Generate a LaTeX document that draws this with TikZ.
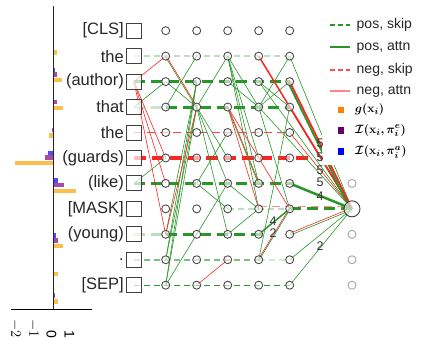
\documentclass[tikz,border=0pt]{standalone}
\usepackage{fontspec}
\setmainfont{Liberation Sans}
\usepackage{amsmath}
\usepackage{bm}
\definecolor{G}{RGB}{40,150,40}
\definecolor{R}{RGB}{255,35,35}
\definecolor{barO}{RGB}{253,190,80}
\definecolor{barP}{RGB}{166,76,166}
\definecolor{barB}{RGB}{76,76,255}
\tikzset{
  tok/.style={anchor=east, font=\fontsize{16.5}{18}\selectfont, text=black!85, inner sep=0pt},
  sq/.style={draw=black!75, line width=0.9pt, minimum size=15pt, inner sep=0pt, fill=white, fill opacity=0.7},
  nd/.style={circle, draw=black!70, line width=0.9pt, minimum size=8pt, inner sep=0pt, fill=white, fill opacity=0.6},
  gnd/.style={circle, draw=black!35, line width=0.9pt, minimum size=8pt, inner sep=0pt},
  bignd/.style={circle, draw=black!75, line width=0.9pt, minimum size=16pt, inner sep=0pt, fill=white, fill opacity=0.6},
  ga/.style={draw=G, line width=0.6pt},
  ra/.style={draw=R, line width=0.6pt},
  gthin/.style={draw=G, line width=1.3pt, dash pattern=on 6pt off 4pt},
  gthick/.style={draw=G, line width=3pt, dash pattern=on 11pt off 6pt},
  rthin/.style={draw=R, line width=1pt, dash pattern=on 8pt off 5pt},
  rthick/.style={draw=R, line width=4pt, dash pattern=on 12pt off 6pt},
  num/.style={font=\fontsize{12.5}{13}\selectfont, text=black!80, inner sep=0pt},
  legtxt/.style={anchor=west, font=\fontsize{14}{15}\selectfont, text=black!85, inner sep=0pt},
  legmath/.style={anchor=west, font=\fontsize{12.5}{13}\selectfont, text=black, inner sep=0pt},
  tick/.style={anchor=east, rotate=-90, font=\fontsize{14}{15}\selectfont, inner sep=0pt},
}
\begin{document}
\begin{tikzpicture}[x=1pt, y=-1pt]
\useasboundingbox (0,0) rectangle (424,339);
% ---------- bar chart ----------
\foreach \i/\vb/\vp/\vo in {1/0/0.05/0.19, 2/0.1/0.19/0.48, 3/0.06/0.19/0.55, 4/0.01/-0.09/-0.22,
  5/-0.28/-0.46/-2.13, 6/0.28/0.6/1.26, 8/0.15/0.28/0.52, 9/0.01/0.03/0.24, 10/0.02/0.1/0.28}{
  \pgfmathsetmacro{\yo}{25+27.65*\i}
  \fill[barB] (53.3,\yo-12.7) rectangle ({53.3+18*\vb},\yo-8.3);
  \fill[barP] (53.3,\yo-8) rectangle ({53.3+18*\vp},\yo-3.6);
  \fill[barO] (53.3,\yo-2.2) rectangle ({53.3+18*\vo},\yo+2.2);
}
\draw[black!85, line width=1pt] (53.3,6) -- (53.3,310);
\draw[black, line width=1pt] (11,310) -- (92,310);
\node[tick] (t1) at (15.5,338) {$-2$};
\node[tick] (t2) at (33.5,338) {$-1$};
\node[tick] (t3) at (51.5,338) {0};
\node[tick] (t4) at (69.5,338) {1};
% ---------- node positions ----------
\foreach \i in {0,...,10}{
  \pgfmathsetmacro{\yy}{30.7+25.45*\i}
  \coordinate (p\i) at (134,\yy);
  \foreach \j in {1,...,5}{
    \coordinate (q\j-\i) at ({165.7+31*(\j-1)},\yy);
  }
}
\foreach \i in {6,...,10}{
  \pgfmathsetmacro{\yy}{30.7+25.45*\i}
  \coordinate (qf-\i) at (352,\yy);
}
% ---------- skip lines ----------
\draw[gthin, draw opacity=0.3] (p1) -- (q5-1);
\draw[gthick] (p2) -- (q5-2);
\draw[gthick, draw opacity=0.25] (p3) -- (q1-3);
\draw[gthick] (q1-3) -- (q5-3);
\draw[rthin, draw opacity=0.85] (p4) -- (q5-4);
\draw[rthick] (p5) -- ([xshift=20pt]q5-5);
\draw[gthick] (p6) -- ([xshift=4pt]q5-6);
\draw[gthin, draw opacity=0.3, line width=1.5pt] (q3-7) -- (q5-7);
\draw[rthin, draw opacity=0.5, transform canvas={yshift=2pt}] (q4-7) -- (qf-7);
\draw[gthick] (q5-7) -- (qf-7);
\draw[gthick, draw opacity=0.3] (p8) -- (q1-8);
\draw[gthick] (q1-8) -- ([xshift=4pt]q4-8);
\draw[gthin, line width=2pt, draw opacity=0.6] (p9) -- (q4-9);
\draw[gthin, line width=2pt, draw opacity=0.2] (q4-9) -- (q5-9);
\draw[gthin] (p10) -- (q5-10);
% ---------- attention edges ----------
\foreach \a/\b in {p3/q1-2, p6/q1-5, q1-3/q2-1, q1-2/q2-3, q1-8/q2-2, q1-9/q2-3, q1-9/q2-2,
  q1-10/q2-3, q1-10/q2-2, q1-10/q2-8, q2-3/q3-1, q2-3/q3-5, q2-3/q3-6, q2-3/q3-8,
  q2-6/q3-4, q2-6/q3-7, q2-8/q3-6, q3-1/q4-3, q3-1/q4-5, q3-1/q4-6, q3-1/q4-7,
  q3-2/q4-3, q3-6/q4-7, q3-8/q4-7, q4-2/q5-3, q4-3/q5-2, q4-3/q5-1, q4-3/q5-7,
  q4-9/q5-3, q5-1/qf-7, q5-9/qf-7, q5-10/qf-7, q4-3/qf-7, q4-2/qf-7}{
  \draw[ga] (\a) -- (\b);
}
\foreach \a/\b in {p2/q1-1, p2/q1-5, p2/q1-6, p2/q1-8, q3-3/q4-7, q3-3/q5-7, q2-10/q3-9,
  q5-4/qf-7, q1-8/q2-3}{
  \draw[ra] (\a) -- (\b);
}
\foreach \a/\b in {q1-1/q2-3, q4-9/q5-7, q5-8/qf-7, q5-3/qf-7, q3-3/q4-6}{
  \draw[ra, transform canvas={yshift=1pt}] (\a) -- (\b);
  \draw[ga, transform canvas={yshift=-1pt}] (\a) -- (\b);
}
\draw[ra, line width=1.5pt] (q4-1) -- (qf-7);
\draw[ra, line width=1.8pt] (q5-2) -- (qf-7);
\draw[ga, line width=1.8pt, transform canvas={xshift=-2pt}] (q5-2) -- (qf-7);
\draw[ga, line width=2.5pt] (q5-6) -- (qf-7);
\draw[ga, line width=1.5pt] (q4-8) -- (q5-7);
% ---------- node shapes ----------
\node[tok] (l0) at (124,30.7) {[CLS]};
\node[tok] (l1) at (124,56.15) {the};
\node[tok] (l2) at (124,81.6) {(author)};
\node[tok] (l3) at (124,107.05) {that};
\node[tok] (l4) at (124,132.5) {the};
\node[tok] (l5) at (124,157.95) {(guards)};
\node[tok] (l6) at (124,183.4) {(like)};
\node[tok] (l7) at (124,208.85) {[MASK]};
\node[tok] (l8) at (124,234.3) {(young)};
\node[tok] (l9) at (124,259.75) {.};
\node[tok] (l10) at (124,285.2) {[SEP]};
\foreach \i in {0,...,10}{
  \node[sq] (s\i) at (p\i) {};
  \foreach \j in {1,...,5}{
    \node[nd] (c\j-\i) at (q\j-\i) {};
  }
}
\foreach \i in {6,8,9,10}{
  \node[gnd] (f\i) at (qf-\i) {};
}
\node[bignd] (f7) at (qf-7) {};
% ---------- legend ----------
\fill[white] (322,0) rectangle (424,165);
\coordinate (a1) at (330,25); \coordinate (b1) at (350,25);
\coordinate (a2) at (330,47); \coordinate (b2) at (350,47);
\coordinate (a3) at (330,70); \coordinate (b3) at (350,70);
\coordinate (a4) at (330,91); \coordinate (b4) at (350,91);
\draw[draw=G, line width=1.5pt, dash pattern=on 5pt off 3pt] (a1) -- (b1);
\draw[draw=G, line width=1.5pt] (a2) -- (b2);
\draw[draw=R!80, line width=1.2pt, dash pattern=on 5pt off 3pt] (a3) -- (b3);
\draw[draw=R!55, line width=1.2pt] (a4) -- (b4);
\node[legtxt] (k1) at (356.5,25) {pos, skip};
\node[legtxt] (k2) at (356.5,47) {pos, attn};
\node[legtxt] (k3) at (356.5,70) {neg, skip};
\node[legtxt] (k4) at (356.5,91) {neg, attn};
\fill[orange] (337.7,106.7) rectangle (344.3,113.3);
\fill[violet!80!black] (337.7,127.2) rectangle (344.3,133.8);
\fill[blue] (337.7,148.2) rectangle (344.3,154.8);
\node[legmath] (k5) at (355,109.5) {$\bm{g(\mathbf{x}_i)}$};
\node[legmath] (k6) at (355,130.5) {$\bm{\mathcal{I}(\mathbf{x}_i,\pi_i^e)}$};
\node[legmath] (k7) at (355,152) {$\bm{\mathcal{I}(\mathbf{x}_i,\pi_i^a)}$};
% ---------- numbers ----------
\node[num] (n1) at (320,143) {5};
\node[num] (n2) at (320,157) {5};
\node[num] (n3) at (320,170) {5};
\node[num] (n4) at (320,182) {5};
\node[num] (n5) at (320,196) {4};
\node[num] (n6) at (273,221.5) {4};
\node[num] (n7) at (273,233.5) {2};
\node[num] (n8) at (320,246) {2};
\end{tikzpicture}
\end{document}
